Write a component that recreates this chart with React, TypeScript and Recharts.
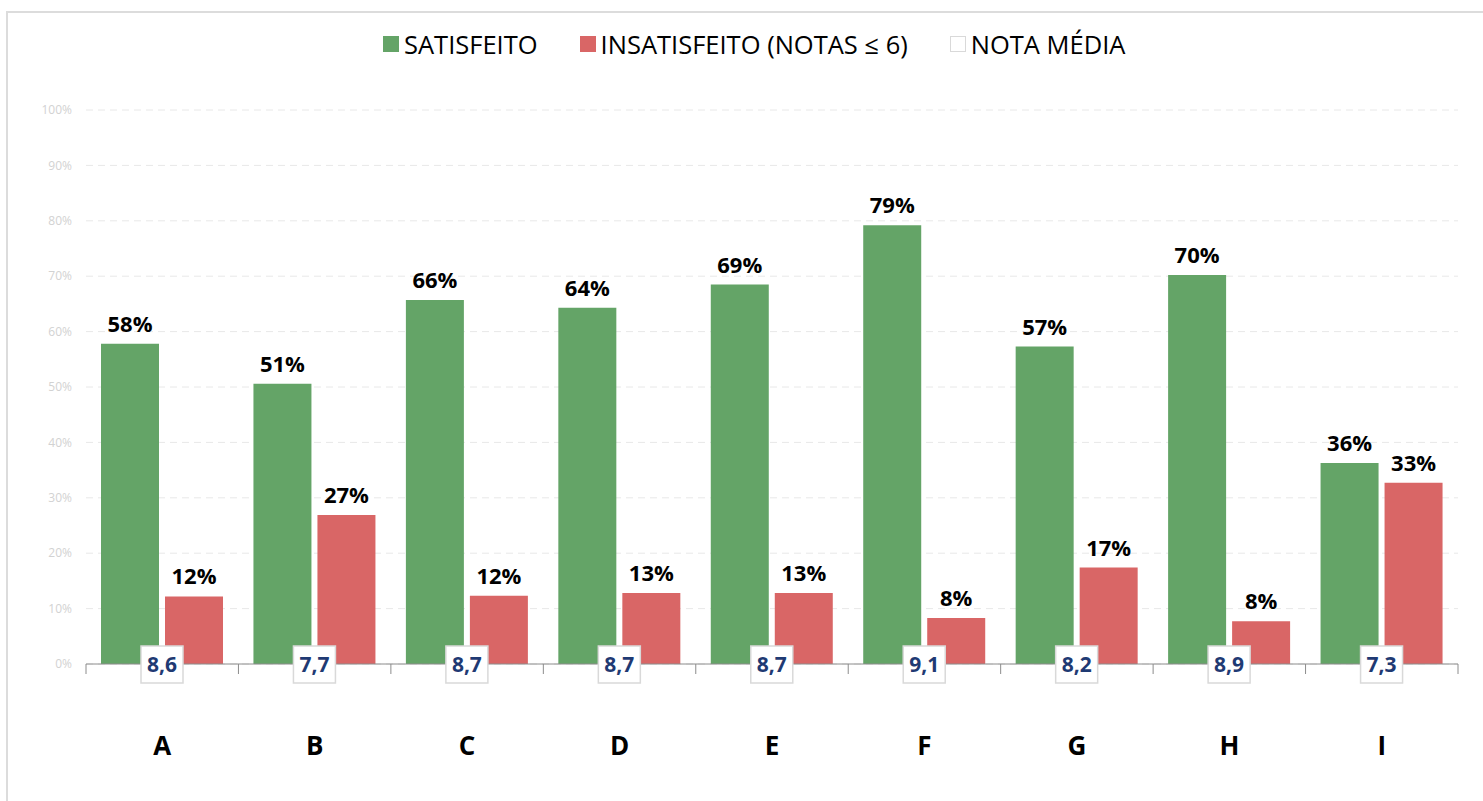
import React from 'react';
import { BarChart, Bar, XAxis, YAxis, CartesianGrid, LabelList } from 'recharts';

const categories = ['A', 'B', 'C', 'D', 'E', 'F', 'G', 'H', 'I'];
const satisfeito = [57.8, 50.6, 65.7, 64.3, 68.5, 79.2, 57.3, 70.2, 36.3];
const insatisfeito = [12.2, 26.9, 12.3, 12.8, 12.8, 8.3, 17.4, 7.7, 32.7];
const notaMedia = ['8,6', '7,7', '8,7', '8,7', '8,7', '9,1', '8,2', '8,9', '7,3'];
const yTicks = [0, 10, 20, 30, 40, 50, 60, 70, 80, 90, 100];

const GREEN = '#64a467';
const RED = '#d96666';
const AXIS = '#8c8c8c';
const FONT = '"Open Sans", sans-serif';

const data = categories.map((name, i) => ({
  name,
  sat: satisfeito[i],
  ins: insatisfeito[i],
  nota: notaMedia[i],
}));

const pct = (v: any) => `${Math.round(Number(v))}%`;

const NotaBox = (props: any) => {
  const { x, y, width, height, value } = props;
  const cx = Number(x) + Number(width) + 3;
  const cy = Number(y) + Number(height);
  return (
    <g>
      <rect x={cx - 21} y={cy - 18} width={42} height={37} fill="#ffffff" stroke="#d9d9d9" strokeWidth={1.5} />
      <text x={cx} y={cy + 8} textAnchor="middle" fontFamily={FONT} fontWeight={700} fontSize={21} fill="#1f3a73">
        {value}
      </text>
    </g>
  );
};

// category label plus tick marks on the band edges
const CatTick = (props: any) => {
  const { x, y, payload, index, visibleTicksCount } = props;
  const half = payload && payload.offset ? payload.offset : 76.2;
  const isLast = index === visibleTicksCount - 1;
  return (
    <g>
      <line x1={x - half} x2={x - half} y1={y} y2={y + 10} stroke={AXIS} strokeWidth={1} />
      {isLast && <line x1={x + half} x2={x + half} y1={y} y2={y + 10} stroke={AXIS} strokeWidth={1} />}
      <text x={x} y={y + 91} textAnchor="middle" fontFamily={FONT} fontWeight={700} fontSize={26} fill="#000">
        {payload.value}
      </text>
    </g>
  );
};

const legendItems = [
  { label: 'SATISFEITO', color: GREEN, border: GREEN },
  { label: 'INSATISFEITO (NOTAS ≤ 6)', color: RED, border: RED },
  { label: 'NOTA MÉDIA', color: '#ffffff', border: '#d9d9d9' },
];

const valueLabel = { fontFamily: FONT, fontWeight: 700, fontSize: 22, fill: '#000' };

export default function App() {
  return (
    <div style={{ position: 'absolute', left: 0, top: 0, width: 1483, height: 801, overflow: 'hidden', background: '#fff', fontFamily: FONT }}>
      <div style={{ position: 'absolute', left: 6, top: 11, width: 1500, height: 800, border: '2px solid #dcdcdc', boxSizing: 'border-box' }} />
      <div style={{ position: 'absolute', left: 383, top: 27, display: 'flex', alignItems: 'center', gap: 42, fontSize: 25.5, color: '#000' }}>
        {legendItems.map((it) => (
          <div key={it.label} style={{ display: 'flex', alignItems: 'center' }}>
            <span style={{ display: 'inline-block', width: 16, height: 16, background: it.color, border: `1px solid ${it.border}`, marginRight: 5, boxSizing: 'border-box' }} />
            <span>{it.label}</span>
          </div>
        ))}
      </div>
      <div style={{ position: 'absolute', left: 0, top: 0 }}>
        <BarChart width={1483} height={801} data={data} margin={{ top: 110, right: 25, bottom: 37, left: 0 }} barGap={6} barSize={58}>
          <CartesianGrid vertical={false} stroke="#e8e8e8" strokeDasharray="7 5" />
          <XAxis
            dataKey="name"
            height={100}
            axisLine={{ stroke: AXIS }}
            tickLine={false}
            tickSize={0}
            tickMargin={0}
            tick={<CatTick />}
            interval={0}
          />
          <YAxis
            domain={[0, 100]}
            ticks={yTicks}
            tickFormatter={(v: number) => `${v}%`}
            width={86}
            axisLine={false}
            tickLine={false}
            tickMargin={8}
            tick={{ fill: '#d2d2d2', fontSize: 12, fontFamily: FONT }}
          />
          <Bar dataKey="sat" fill={GREEN} isAnimationActive={false}>
            <LabelList dataKey="sat" position="top" offset={12} formatter={pct} style={valueLabel} />
            <LabelList dataKey="nota" content={<NotaBox />} />
          </Bar>
          <Bar dataKey="ins" fill={RED} isAnimationActive={false}>
            <LabelList dataKey="ins" position="top" offset={12} formatter={pct} style={valueLabel} />
          </Bar>
        </BarChart>
      </div>
    </div>
  );
}
